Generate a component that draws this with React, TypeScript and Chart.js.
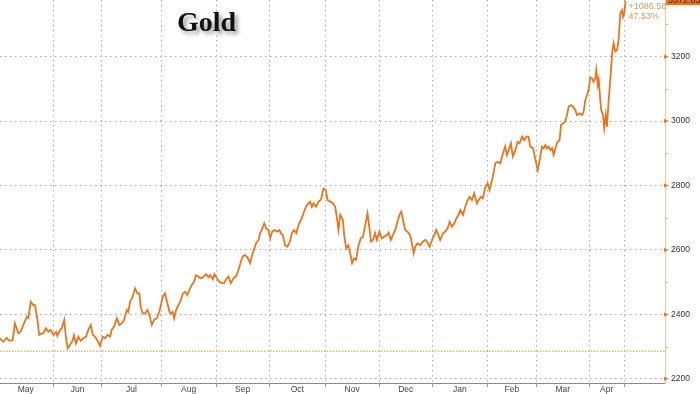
import React, { useEffect, useRef } from "react";
import { Chart, registerables } from "chart.js";

Chart.register(...registerables);

const TITLE = "Gold";

// trading-day index since the start of the window
const days = [
  0, 1.3, 2.7, 3.8, 5.1, 6.0, 7.4, 8.3, 9.4, 10.8, 11.4, 12.4, 13.4, 14.1, 15.0, 15.8, 16.8, 17.5, 18.5, 19.5,
  20.4, 21.5, 22.6, 23.1, 24.2, 24.9, 25.9, 26.6, 27.3, 28.2, 29.3, 29.8, 30.6, 31.6, 32.5, 33.6, 34.7, 35.6, 36.6, 37.4,
  38.3, 39.2, 40.3, 41.4, 42.3, 43.3, 44.4, 45.0, 46.0, 47.1, 48.1, 49.1, 50.0, 51.1, 51.7, 52.4, 53.5, 54.4, 55.4, 56.2,
  56.7, 57.5, 58.5, 59.4, 60.2, 61.2, 62.1, 63.2, 64.2, 65.6, 66.5, 67.5, 68.3, 68.8, 69.6, 70.2, 71.0, 71.9, 72.6, 73.7,
  74.6, 75.5, 76.3, 77.3, 78.2, 79.0, 80.0, 80.9, 82.0, 83.1, 84.0, 84.7, 85.8, 86.4, 87.4, 88.4, 89.4, 90.3, 91.4, 92.1,
  93.0, 94.1, 95.2, 96.1, 97.1, 97.9, 98.8, 99.7, 100.8, 101.5, 102.4, 103.2, 104.2, 104.8, 105.5, 106.5, 107.3, 108.2, 108.9, 109.7,
  110.5, 111.6, 112.6, 113.2, 114.0, 114.9, 115.8, 116.9, 117.6, 118.5, 119.4, 120.3, 121.3, 122.3, 123.3, 124.3, 125.0, 125.7, 126.3, 127.4,
  128.3, 129.3, 130.4, 131.3, 132.0, 133.1, 134.2, 135.1, 135.8, 136.4, 137.1, 138.2, 138.7, 139.5, 140.4, 141.4, 141.9, 142.7, 143.5, 144.5,
  145.4, 146.3, 147.2, 148.1, 148.9, 149.5, 150.3, 151.2, 151.9, 152.9, 153.9, 154.8, 155.9, 156.6, 157.5, 158.3, 159.3, 160.0, 161.0, 161.7,
  162.4, 163.3, 164.2, 165.3, 166.0, 166.7, 167.3, 168.3, 169.4, 170.4, 171.4, 172.1, 173.1, 174.1, 175.0, 175.8, 176.7, 177.4, 178.5, 179.4,
  180.4, 181.2, 182.1, 183.1, 183.9, 184.8, 185.5, 186.6, 187.5, 188.2, 189.2, 190.2, 191.1, 192.2, 192.9, 193.8, 194.6, 195.6, 196.5, 197.3,
  198.3, 198.9, 199.6, 200.5, 201.6, 202.7, 203.6, 204.3, 205.0, 205.9, 206.7, 207.7, 208.6, 209.4, 210.4, 211.3, 212.1, 213.0, 213.7, 214.8,
  215.4, 216.1, 216.7, 217.5, 218.4, 219.1, 219.8, 220.4, 221.1, 221.8, 222.5, 223.1, 223.8, 224.7, 225.5, 226.1, 226.9, 227.8, 228.5, 229.2,
  230.1, 230.9, 231.9, 232.5, 233.6, 234.6, 235.2, 235.9, 236.6, 237.2, 237.9, 238.6, 239.2, 239.9, 240.3, 240.9, 241.3, 241.9, 242.3, 243.0,
  243.5, 244.1, 244.6, 245.3, 246.0, 246.7, 247.3, 248.0, 248.7, 249.3, 250.0, 250.7, 251.1, 251.6, 252.1,
];

const prices = [
  2326, 2315, 2327, 2318, 2320, 2372, 2341, 2346, 2367, 2393, 2389, 2439, 2429, 2429, 2388, 2336, 2341, 2342, 2357, 2346,
  2352, 2336, 2346, 2333, 2352, 2357, 2383, 2326, 2295, 2305, 2320, 2336, 2310, 2331, 2318, 2326, 2331, 2352, 2367, 2336,
  2331, 2320, 2302, 2331, 2326, 2336, 2331, 2352, 2362, 2388, 2367, 2372, 2383, 2414, 2408, 2439, 2455, 2481, 2465, 2465,
  2424, 2403, 2403, 2414, 2398, 2367, 2383, 2388, 2408, 2455, 2465, 2434, 2408, 2403, 2408, 2388, 2414, 2429, 2439, 2465,
  2470, 2460, 2476, 2491, 2501, 2522, 2517, 2512, 2517, 2525, 2515, 2522, 2509, 2525, 2512, 2501, 2497, 2497, 2512, 2517,
  2497, 2512, 2519, 2538, 2564, 2581, 2584, 2577, 2559, 2581, 2602, 2621, 2631, 2652, 2662, 2683, 2667, 2662, 2636, 2657,
  2662, 2657, 2662, 2652, 2646, 2615, 2610, 2626, 2652, 2662, 2652, 2677, 2693, 2714, 2734, 2745, 2750, 2734, 2745, 2734,
  2750, 2755, 2791, 2786, 2755, 2750, 2745, 2734, 2698, 2662, 2709, 2693, 2646, 2605, 2615, 2579, 2559, 2574, 2569, 2615,
  2636, 2641, 2677, 2714, 2667, 2626, 2631, 2652, 2631, 2657, 2636, 2641, 2646, 2654, 2631, 2646, 2662, 2683, 2709, 2719,
  2693, 2662, 2657, 2646, 2621, 2590, 2610, 2621, 2615, 2626, 2631, 2626, 2610, 2631, 2646, 2662, 2646, 2631, 2652, 2657,
  2667, 2688, 2672, 2683, 2698, 2709, 2724, 2709, 2734, 2750, 2765, 2755, 2776, 2745, 2755, 2765, 2760, 2796, 2807, 2786,
  2817, 2838, 2869, 2874, 2869, 2900, 2921, 2895, 2910, 2931, 2890, 2910, 2936, 2931, 2952, 2941, 2952, 2952, 2921, 2916,
  2895, 2869, 2848, 2879, 2921, 2916, 2926, 2916, 2921, 2910, 2916, 2895, 2916, 2936, 2941, 2988, 2993, 2998, 3019, 3045,
  3050, 3045, 3034, 3019, 3024, 3019, 3029, 3066, 3081, 3097, 3136, 3133, 3122, 3133, 3159, 3112, 3128, 3066, 3034, 3019,
  2978, 3019, 2983, 3066, 3133, 3211, 3242, 3216, 3221, 3252, 3335, 3345, 3324, 3335, 3372.83,
];

const LAST_PRICE = 3372.83;
const BASE_PRICE = 2286.25;
const CHANGE_LABEL = "+1086.58";
const PCT_LABEL = "47.53%";

const monthBoundaries = [21.4, 41.1, 64.9, 87.1, 108.5, 131.0, 152.8, 174.2, 196.4, 216.1, 237.5, 251.6];
const monthNames = ["May", "Jun", "Jul", "Aug", "Sep", "Oct", "Nov", "Dec", "Jan", "Feb", "Mar", "Apr"];
const monthCenters = [10.4, 31.3, 53.0, 76.0, 97.8, 119.8, 141.9, 163.5, 185.3, 206.3, 226.8, 244.5];

const yMajorTicks = [2200, 2400, 2600, 2800, 3000, 3200];
const yMinorTicks = [2300, 2500, 2700, 2900, 3100, 3300];

const X_MIN = 0;
const X_MAX = 268;
const Y_MIN = 2187;
const Y_MAX = 3376;

const LINE_COLOR = "#e8761e";
const GRID_COLOR = "#a9a9a9";
const FONT = "'Liberation Sans', Arial, sans-serif";

const overlayPlugin = {
  id: "bbgOverlay",
  afterDraw(chart: any) {
    const { ctx, chartArea, scales } = chart;
    const ys = scales.y;
    const xs = scales.x;
    const axisX = chartArea.right;
    ctx.save();
    // major tick arrows
    ctx.fillStyle = "#e07a2c";
    yMajorTicks.forEach((v) => {
      const y = ys.getPixelForValue(v);
      ctx.beginPath();
      ctx.moveTo(axisX - 1, y - 2);
      ctx.lineTo(axisX + 4, y);
      ctx.lineTo(axisX - 1, y + 2);
      ctx.closePath();
      ctx.fill();
    });
    // minor ticks
    ctx.strokeStyle = "#e3b58c";
    ctx.lineWidth = 1;
    yMinorTicks.forEach((v) => {
      const y = Math.round(ys.getPixelForValue(v)) + 0.5;
      ctx.beginPath();
      ctx.moveTo(axisX, y);
      ctx.lineTo(axisX + 3, y);
      ctx.stroke();
    });
    // last price annotations
    const yLast = ys.getPixelForValue(LAST_PRICE);
    const xLast = xs.getPixelForValue(days[days.length - 1]);
    ctx.font = `9px ${FONT}`;
    ctx.fillStyle = "#c9a25e";
    ctx.textAlign = "left";
    ctx.textBaseline = "middle";
    ctx.fillText(CHANGE_LABEL, xLast + 3, yLast + 5);
    ctx.fillText(PCT_LABEL, xLast + 3, yLast + 15);
    // last price box
    ctx.fillStyle = LINE_COLOR;
    ctx.fillRect(axisX + 1, yLast - 8, 700 - axisX, 12);
    ctx.fillStyle = "#4a1a00";
    ctx.font = `9px ${FONT}`;
    ctx.fillText(LAST_PRICE.toFixed(2), axisX + 3, yLast - 1);
    ctx.restore();
  },
};

export default function App() {
  const canvasRef = useRef<HTMLCanvasElement | null>(null);

  useEffect(() => {
    if (!canvasRef.current) return;
    const isBoundary = (v: number) => monthBoundaries.indexOf(v) >= 0;
    const chart = new Chart(canvasRef.current, {
      type: "line",
      data: {
        datasets: [
          {
            label: "Gold",
            data: days.map((d, i) => ({ x: d, y: prices[i] })),
            borderColor: LINE_COLOR,
            borderWidth: 1.8,
            pointRadius: 0,
            tension: 0,
          },
          {
            label: "Base",
            data: [
              { x: X_MIN, y: BASE_PRICE },
              { x: X_MAX, y: BASE_PRICE },
            ],
            borderColor: "#f0a828",
            borderWidth: 1.3,
            borderDash: [1.5, 1.5],
            pointRadius: 0,
          },
        ],
      },
      options: {
        animation: false,
        responsive: false,
        devicePixelRatio: 1,
        layout: { padding: 0, autoPadding: false },
        plugins: {
          legend: { display: false },
          tooltip: { enabled: false },
        },
        scales: {
          x: {
            type: "linear",
            min: X_MIN,
            max: X_MAX,
            afterBuildTicks: (s: any) => {
              const vals = [...monthBoundaries, ...monthCenters].sort((a, b) => a - b);
              s.ticks = vals.map((v) => ({ value: v }));
            },
            afterFit: (s: any) => {
              s.height = 11;
              s.paddingLeft = 0;
              s.paddingRight = 0;
            },
            ticks: {
              autoSkip: false,
              maxRotation: 0,
              minRotation: 0,
              padding: -2,
              color: "#444",
              font: { family: FONT, size: 8.5 },
              callback: (v: any) => {
                const i = monthCenters.indexOf(Number(v));
                return i >= 0 ? monthNames[i] : "";
              },
            },
            grid: {
              color: (c: any) => (c.tick && isBoundary(c.tick.value) ? GRID_COLOR : "rgba(0,0,0,0)"),
              tickColor: (c: any) => (c.tick && isBoundary(c.tick.value) ? "#9a9a9a" : "rgba(0,0,0,0)"),
              lineWidth: 1,
              tickLength: 4,
              drawTicks: true,
            },
            border: { display: true, color: "#8a8a8a", width: 1, dash: [1.5, 3.5] },
          },
          y: {
            type: "linear",
            position: "right",
            min: Y_MIN,
            max: Y_MAX,
            afterBuildTicks: (s: any) => {
              s.ticks = yMajorTicks.map((v) => ({ value: v }));
            },
            afterFit: (s: any) => {
              s.width = 35;
              s.paddingTop = 0;
              s.paddingBottom = 0;
            },
            ticks: {
              padding: 6,
              color: "#333",
              font: { family: FONT, size: 8.5 },
              callback: (v: any) => String(v),
            },
            grid: {
              color: GRID_COLOR,
              lineWidth: 1,
              drawTicks: false,
            },
            border: { display: true, color: "#edc59c", width: 1, dash: [1.5, 3.5] },
          },
        },
      },
      plugins: [overlayPlugin],
    } as any);
    return () => chart.destroy();
  }, []);

  return (
    <div style={{ position: "absolute", left: 0, top: 0, width: 700, height: 394, background: "#fff" }}>
      <canvas ref={canvasRef} width={700} height={394} style={{ display: "block" }} />
      <div
        style={{
          position: "absolute",
          left: 177,
          top: 8,
          fontFamily: "'Liberation Serif', 'Times New Roman', serif",
          fontWeight: "bold",
          fontSize: 28,
          lineHeight: "28px",
          color: "#111",
          textShadow: "3px 3px 4px rgba(0,0,0,0.4)",
          whiteSpace: "nowrap",
        }}
      >
        {TITLE}
      </div>
    </div>
  );
}
